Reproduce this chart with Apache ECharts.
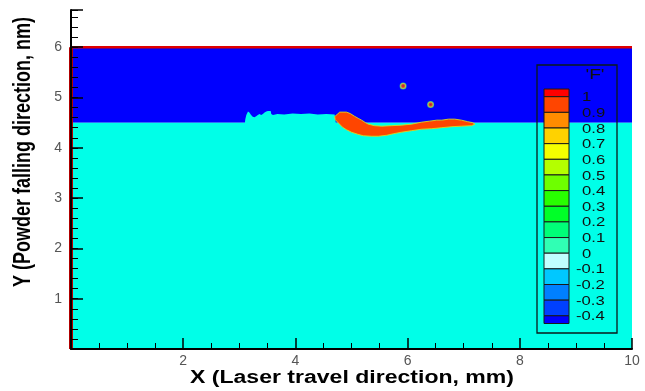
<!DOCTYPE html>
<html>
<head>
<meta charset="utf-8">
<script src="https://cdn.jsdelivr.net/npm/echarts@6/dist/echarts.min.js"></script>
<style>
  html, body { margin: 0; padding: 0; background: #fff; }
  #chart { width: 645px; height: 391px; }
</style>
</head>
<body>
<div id="chart"></div>
<script>
// ---- axis tick labels ----
const xTickLabels = [2, 4, 6, 8, 10];
const yTickLabels = [1, 2, 3, 4, 5, 6];

// ---- contour legend for the volume fraction 'F' (top to bottom) ----
const legendTitle = "'F'";
const legendLevels = ['1', '0.9', '0.8', '0.7', '0.6', '0.5', '0.4', '0.3', '0.2', '0.1', '0', '-0.1', '-0.2', '-0.3', '-0.4'];
const legendBands = ['#FF0000', '#FF4500', '#FF8C00', '#FFD200', '#F5FF00', '#B4FF00', '#6EFF00', '#28FF00',
                     '#00FF28', '#00FF78', '#30FFB4', '#C0FFFF', '#00C8FF', '#0080FF', '#0040FF', '#0000FF'];

// ---- field regions (x in mm, y in nm) ----
// gas phase between the substrate surface and the top of the domain
const gasRegion = [[0, 4.5], [10, 4.5], [10, 6], [0, 6]];

// substrate, with the rough surface left of the track
const substrateRegion = [
  [0, 0], [10, 0], [10, 4.5], [4.72, 4.5], [4.70, 4.66],
  [4.55, 4.67], [4.40, 4.66], [4.25, 4.68], [4.10, 4.67], [3.95, 4.68], [3.80, 4.66],
  [3.68, 4.67], [3.60, 4.65], [3.57, 4.67], [3.56, 4.73], [3.51, 4.73], [3.48, 4.72],
  [3.45, 4.70], [3.42, 4.67], [3.39, 4.65], [3.36, 4.67], [3.33, 4.65], [3.30, 4.63],
  [3.27, 4.61], [3.24, 4.62], [3.21, 4.65], [3.18, 4.70], [3.155, 4.72], [3.125, 4.65],
  [3.107, 4.57], [3.10, 4.5], [0, 4.5]
];

// deposited track (F close to 1)
const trackRegion = [
  [4.70, 4.62], [4.75, 4.67], [4.79, 4.71], [4.91, 4.71], [4.98, 4.68], [5.05, 4.63],
  [5.13, 4.58], [5.18, 4.55], [5.25, 4.50], [5.30, 4.47], [5.41, 4.44], [5.54, 4.43],
  [5.71, 4.44], [5.89, 4.45], [6.07, 4.47], [6.25, 4.51], [6.39, 4.53], [6.52, 4.55],
  [6.61, 4.55], [6.73, 4.57], [6.84, 4.57], [6.96, 4.55], [7.07, 4.52], [7.16, 4.50],
  [7.20, 4.47], [7.14, 4.44], [6.96, 4.43], [6.79, 4.42], [6.61, 4.40], [6.43, 4.38],
  [6.25, 4.37], [6.07, 4.34], [5.89, 4.31], [5.75, 4.28], [5.63, 4.25], [5.48, 4.23],
  [5.36, 4.23], [5.21, 4.24], [5.11, 4.27], [5.00, 4.31], [4.91, 4.36], [4.84, 4.41],
  [4.77, 4.49], [4.71, 4.56]
];

// free powder particles
const particles = [[5.92, 5.23], [6.41, 4.86]];

// domain boundaries where F = 1
const topBoundary = [[0, 6], [10, 6]];
const leftBoundary = [[0, 0], [0, 6]];

// ---- drawing ----
function regionSeries(points, fill, stroke, lineWidth) {
  return {
    type: 'custom',
    coordinateSystem: 'cartesian2d',
    silent: true,
    data: points,
    renderItem: function (params, api) {
      if (params.dataIndex !== 0) return null;
      return {
        type: 'polygon',
        shape: { points: points.map(function (p) { return api.coord(p); }) },
        style: { fill: fill, stroke: stroke || null, lineWidth: lineWidth || 0 }
      };
    }
  };
}

const font = 'Liberation Sans, Arial, sans-serif';
const stretch = 1.28;

// legend graphics
const legendGraphics = [];
const boxX = 544, boxW = 25, bandTop = 89, bandH = 15.65, halfH = 7.7;
legendGraphics.push({
  type: 'rect', z: 100,
  shape: { x: 537, y: 65, width: 80, height: 268 },
  style: { fill: null, stroke: '#0a1a1a', lineWidth: 1.3 }
});
legendGraphics.push({
  type: 'text', z: 100, x: 595, y: 75, scaleX: stretch,
  style: { text: legendTitle, font: '15px ' + font, fill: '#111', align: 'center', verticalAlign: 'middle' }
});
let yCursor = bandTop;
legendBands.forEach(function (c, i) {
  const h = (i === 0 || i === legendBands.length - 1) ? halfH : bandH;
  legendGraphics.push({
    type: 'rect', z: 100,
    shape: { x: boxX, y: yCursor, width: boxW, height: h },
    style: { fill: c, stroke: '#1a1a1a', lineWidth: 1 }
  });
  yCursor += h;
});
legendLevels.forEach(function (t, i) {
  const yc = bandTop + halfH + i * bandH;
  legendGraphics.push({
    type: 'text', z: 100, x: t.charAt(0) === '-' ? 576 : 582, y: yc + 1, scaleX: stretch,
    style: { text: t, font: '13px ' + font, fill: '#111', align: 'left', verticalAlign: 'middle' }
  });
});

// axis titles
legendGraphics.push({
  type: 'text', x: 352, y: 378, scaleX: stretch,
  style: { text: 'X (Laser travel direction, mm)', font: 'bold 18px ' + font, fill: '#000', align: 'center', verticalAlign: 'middle' }
});
legendGraphics.push({
  type: 'text', x: 24, y: 152, rotation: Math.PI / 2, scaleY: stretch,
  style: { text: 'Y (Powder falling direction, nm)', font: 'bold 18px ' + font, fill: '#000', align: 'center', verticalAlign: 'middle' }
});

const chart = echarts.init(document.getElementById('chart'), null, { renderer: 'canvas' });
chart.setOption({
  animation: false,
  backgroundColor: '#fff',
  grid: { left: 71, right: 13, top: 10, bottom: 42 },
  xAxis: {
    type: 'value', min: 0, max: 10, interval: 2, z: 10,
    axisLine: { lineStyle: { color: '#000', width: 2 } },
    axisTick: { inside: true, length: 11, lineStyle: { color: '#000', width: 1.5 } },
    minorTick: { show: true, splitNumber: 4, length: 6, lineStyle: { color: '#000', width: 1 } },
    splitLine: { show: false },
    axisLabel: {
      color: '#555', fontSize: 14, fontFamily: font, margin: 5,
      formatter: function (v) { return xTickLabels.indexOf(v) >= 0 ? String(v) : ''; }
    }
  },
  yAxis: [{
    type: 'value', min: 0, max: 6.74, interval: 1, position: 'left', z: 10,
    axisLine: { lineStyle: { color: '#000', width: 2 } },
    axisTick: { inside: true, length: 12, lineStyle: { color: '#000', width: 1.5 } },
    splitLine: { show: false },
    axisLabel: {
      color: '#555', fontSize: 14, fontFamily: font, margin: 9,
      formatter: function (v) { return yTickLabels.indexOf(v) >= 0 ? String(v) : ''; }
    }
  }, {
    type: 'value', min: 0, max: 6.74, interval: 0.2, position: 'left', offset: 0, z: 9,
    axisLine: { show: false },
    axisTick: { inside: true, length: 7, lineStyle: { color: '#000', width: 1 } },
    splitLine: { show: false },
    axisLabel: { show: false }
  }],
  series: [
    regionSeries(gasRegion, '#0000FF'),
    regionSeries(substrateRegion, '#00FFE8'),
    regionSeries(trackRegion, '#FF4500', '#D8D820', 0.9),
    {
      type: 'scatter', data: particles, symbol: 'circle', symbolSize: 7, silent: true,
      itemStyle: {
        color: {
          type: 'radial', x: 0.5, y: 0.5, r: 0.5,
          colorStops: [
            { offset: 0, color: '#FF1000' }, { offset: 0.4, color: '#FF6000' },
            { offset: 0.7, color: '#E8E820' }, { offset: 1, color: '#30E880' }
          ]
        }
      }
    },
    {
      type: 'line', data: topBoundary, symbol: 'none', silent: true,
      lineStyle: { color: '#E00000', width: 2.5 }
    },
    {
      type: 'line', data: leftBoundary, symbol: 'none', silent: true,
      lineStyle: { color: '#B00000', width: 4 }
    }
  ],
  graphic: legendGraphics
});
</script>
</body>
</html>
